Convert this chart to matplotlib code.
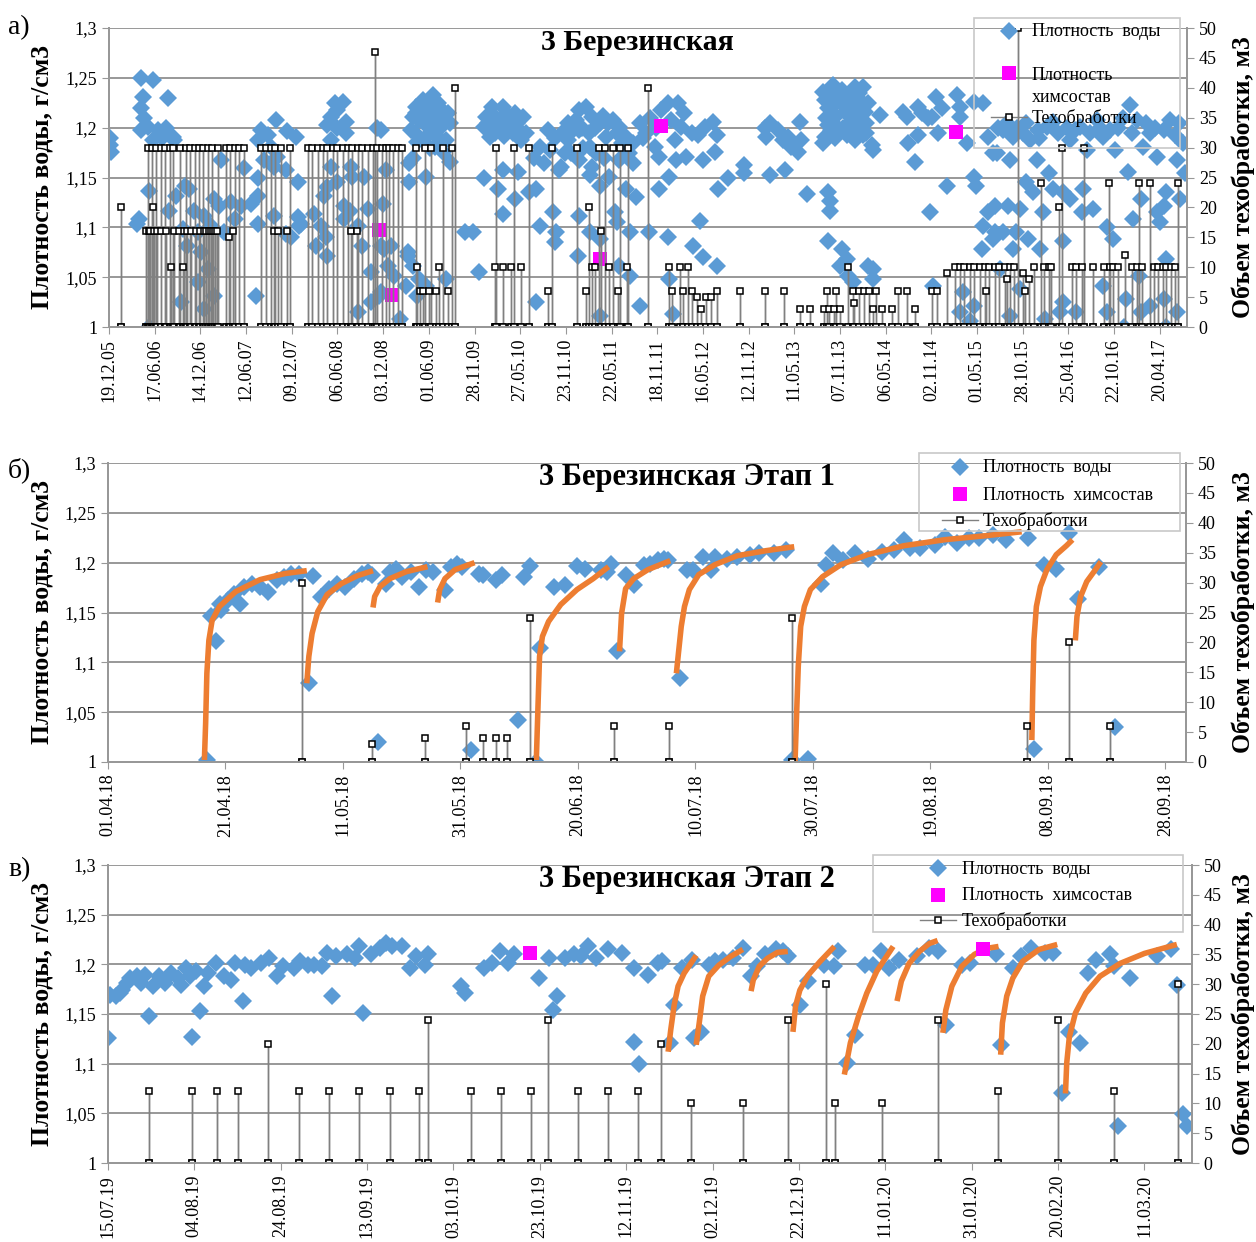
import matplotlib
matplotlib.use('Agg')
import matplotlib.pyplot as plt
import matplotlib.dates as mdates
from matplotlib.patches import Rectangle
from matplotlib.ticker import FuncFormatter
from datetime import datetime, timedelta

plt.rcParams['font.family'] = ['Liberation Serif', 'DejaVu Serif']

BLUE = '#5B9BD5'
MAG = '#FF00FF'
ORANGE = '#ED7D31'
GRID = '#989898'
STEM = '#808080'

# ---------------- panel a: 3 Березинская (decimal years) ----------------
a_dens_year = [
    2005.97, 2005.97, 2005.98, 2006.31, 2006.435, 2006.33, 2006.60, 2006.31, 2006.345, 2006.31,
    2006.38, 2006.49, 2006.58, 2006.65, 2006.54, 2006.435, 2006.67, 2006.40, 2006.29, 2006.27,
    2006.69, 2006.78, 2006.83, 2006.615, 2006.76, 2006.885, 2006.99, 2007.10, 2007.155, 2007.065,
    2007.21, 2006.92, 2006.81, 2006.96, 2006.92, 2007.10, 2006.74, 2006.40, 2007.03, 2006.99,
    2007.17, 2007.42, 2007.28, 2007.39, 2007.50, 2007.57, 2007.57, 2007.57, 2007.32, 2007.55,
    2007.60, 2007.68, 2007.77, 2007.89, 2007.98, 2007.57, 2007.71, 2007.78, 2007.87, 2007.75,
    2007.64, 2008.00, 2008.00, 2008.04, 2007.93, 2007.75, 2007.87, 2008.40, 2008.49, 2008.43,
    2008.36, 2008.52, 2008.32, 2008.43, 2008.52, 2008.36, 2008.86, 2008.36, 2008.575, 2008.59,
    2008.72, 2008.43, 2008.32, 2008.29, 2008.50, 2008.56, 2008.755, 2008.18, 2008.25, 2008.02,
    2008.20, 2008.31, 2008.32, 2008.69, 2008.65, 2008.79, 2008.79, 2008.90, 2008.90, 2008.65,
    2008.50, 2008.90, 2008.92, 2008.95, 2008.97, 2009.01, 2008.93, 2009.04, 2009.10, 2009.17,
    2009.19, 2008.88, 2009.20, 2009.20, 2009.24, 2009.28, 2009.35, 2009.46, 2009.51, 2009.58,
    2009.31, 2009.42, 2009.55, 2009.64, 2009.22, 2009.38, 2009.60, 2009.29, 2009.475, 2009.565,
    2009.24, 2009.385, 2009.64, 2009.24, 2009.31, 2009.385, 2009.60, 2009.29, 2009.19, 2009.80,
    2009.89, 2009.96, 2010.10, 2010.21, 2010.03, 2010.34, 2010.43, 2010.01, 2010.16, 2010.28,
    2010.39, 2010.07, 2010.32, 2010.465, 2010.21, 2010.375, 2010.01, 2010.16, 2010.34, 2010.21,
    2010.57, 2010.50, 2010.61, 2010.75, 2010.79, 2010.77, 2010.57, 2010.70, 2010.61, 2010.55,
    2010.66, 2010.72, 2010.82, 2010.88, 2010.97, 2011.04, 2011.11, 2011.18, 2010.915, 2011.04,
    2011.26, 2011.40, 2011.47, 2011.33, 2011.54, 2011.15, 2011.04, 2010.84, 2011.18, 2011.36,
    2011.47, 2011.615, 2011.69, 2011.76, 2011.15, 2011.26, 2011.54, 2011.65, 2011.04, 2011.15,
    2011.42, 2011.44, 2011.58, 2011.02, 2011.26, 2011.47, 2011.58, 2011.69, 2011.795, 2011.26,
    2011.92, 2011.99, 2012.10, 2012.17, 2012.03, 2012.14, 2012.25, 2012.39, 2012.48, 2012.52,
    2012.32, 2012.07, 2011.85, 2011.90, 2012.08, 2012.19, 2012.37, 2012.50, 2012.01, 2011.90,
    2012.53, 2012.64, 2012.82, 2012.82, 2013.09, 2013.25, 2012.34, 2011.99, 2012.26, 2012.37,
    2012.52, 2012.01, 2012.05, 2013.04, 2013.09, 2013.18, 2013.055, 2013.235, 2013.29, 2013.325,
    2013.40, 2013.415, 2013.43, 2013.49, 2013.72, 2013.74, 2013.74, 2013.67, 2013.775, 2013.865,
    2014.01, 2014.10, 2013.685, 2013.81, 2013.94, 2014.06, 2014.15, 2013.72, 2013.90, 2014.01,
    2014.12, 2014.28, 2013.72, 2013.83, 2014.01, 2014.135, 2013.685, 2013.79, 2013.92, 2014.01,
    2014.10, 2013.67, 2014.19, 2014.21, 2013.72, 2013.865, 2013.85, 2013.92, 2013.94, 2013.99,
    2014.15, 2014.21, 2014.21, 2014.53, 2014.57, 2014.69, 2014.73, 2014.80, 2014.585, 2014.69,
    2014.66, 2014.82, 2014.855, 2014.89, 2014.945, 2015.11, 2015.14, 2015.14, 2015.29, 2015.395,
    2014.91, 2015.215, 2015.45, 2014.84, 2015.00, 2015.50, 2015.61, 2015.72, 2015.825, 2015.90,
    2015.99, 2016.08, 2016.15, 2016.295, 2016.44, 2016.62, 2016.76, 2016.98, 2017.05, 2017.19,
    2017.34, 2017.41, 2017.46, 2015.54, 2015.68, 2015.97, 2016.10, 2016.33, 2016.51, 2016.69,
    2016.82, 2016.96, 2017.12, 2017.27, 2017.48, 2017.57, 2015.29, 2015.32, 2015.45, 2015.52,
    2015.395, 2015.50, 2015.61, 2015.665, 2015.79, 2015.75, 2015.88, 2015.86, 2015.93, 2016.04,
    2016.15, 2016.26, 2016.33, 2016.46, 2016.475, 2016.58, 2016.73, 2016.80, 2017.01, 2017.09,
    2017.27, 2017.34, 2017.30, 2017.37, 2017.52, 2015.38, 2015.52, 2015.72, 2016.01, 2016.26,
    2016.69, 2017.07, 2017.37, 2015.18, 2015.14, 2015.29, 2015.25, 2015.575, 2015.79, 2015.68,
    2016.06, 2016.22, 2016.26, 2016.40, 2016.73, 2016.94, 2017.09, 2017.19, 2017.34, 2017.48,
    2016.91, 2017.37, 2015.215,
    2009.27, 2009.33, 2009.40, 2009.45, 2009.50, 2009.56, 2009.62, 2009.36, 2009.48, 2009.53,
    2009.43, 2009.26, 2010.05, 2010.12, 2010.18, 2010.25, 2010.30, 2010.37, 2010.13, 2010.23,
    2010.41, 2010.78, 2010.85, 2010.92, 2011.00, 2011.07, 2011.14, 2011.21, 2011.29, 2011.35,
    2011.44, 2011.50, 2011.08, 2011.22, 2011.30, 2010.95, 2011.57, 2011.62, 2011.72, 2011.80,
    2011.86, 2013.70, 2013.76, 2013.80, 2013.86, 2013.88, 2013.97, 2014.03, 2014.08, 2014.13,
    2013.75, 2013.96, 2014.05, 2015.55, 2015.65, 2015.76, 2015.86, 2016.00, 2016.20, 2016.38,
    2016.55, 2016.65, 2016.85, 2016.90, 2017.00, 2017.15, 2017.25, 2017.50, 2017.55,
]
a_dens_val = [
    1.19, 1.183, 1.176, 1.25, 1.248, 1.231, 1.23, 1.22, 1.21, 1.198,
    1.201, 1.198, 1.2, 1.191, 1.19, 1.188, 1.188, 1.136, 1.108, 1.103,
    1.131, 1.141, 1.138, 1.116, 1.098, 1.116, 1.111, 1.128, 1.121, 1.101,
    1.095, 1.095, 1.081, 1.075, 1.045, 1.031, 1.025, 1.0, 1.058, 1.018,
    1.168, 1.16, 1.125, 1.121, 1.123, 1.131, 1.15, 1.103, 1.108, 1.031,
    1.198, 1.193, 1.208, 1.197, 1.191, 1.188, 1.181, 1.171, 1.158, 1.161,
    1.168, 1.145, 1.11, 1.103, 1.09, 1.111, 1.093, 1.225, 1.226, 1.218,
    1.211, 1.206, 1.203, 1.2, 1.195, 1.188, 1.2, 1.161, 1.161, 1.151,
    1.151, 1.145, 1.14, 1.131, 1.121, 1.116, 1.118, 1.113, 1.101, 1.101,
    1.081, 1.09, 1.071, 1.081, 1.101, 1.055, 1.025, 1.035, 1.081, 1.015,
    1.108, 1.198, 1.123, 1.158, 1.061, 1.081, 1.078, 1.051, 1.008, 1.041,
    1.071, 1.031, 1.165, 1.145, 1.211, 1.221, 1.228, 1.233, 1.225, 1.216,
    1.208, 1.205, 1.201, 1.205, 1.198, 1.191, 1.188, 1.186, 1.181, 1.176,
    1.17, 1.151, 1.166, 1.061, 1.048, 1.041, 1.048, 1.031, 1.075, 1.095,
    1.095, 1.055, 1.221, 1.221, 1.211, 1.215, 1.211, 1.201, 1.201, 1.205,
    1.198, 1.191, 1.195, 1.195, 1.158, 1.156, 1.15, 1.138, 1.128, 1.113,
    1.138, 1.135, 1.101, 1.115, 1.095, 1.085, 1.025, 1.198, 1.181, 1.17,
    1.165, 1.178, 1.158, 1.175, 1.198, 1.218, 1.221, 1.211, 1.188, 1.198,
    1.205, 1.208, 1.201, 1.191, 1.191, 1.181, 1.168, 1.161, 1.161, 1.151,
    1.168, 1.165, 1.205, 1.195, 1.153, 1.141, 1.138, 1.13, 1.111, 1.095,
    1.115, 1.105, 1.095, 1.071, 1.088, 1.061, 1.051, 1.021, 1.095, 1.011,
    1.218, 1.225, 1.225, 1.215, 1.208, 1.201, 1.195, 1.201, 1.206, 1.193,
    1.193, 1.188, 1.181, 1.171, 1.168, 1.171, 1.168, 1.176, 1.151, 1.138,
    1.138, 1.15, 1.163, 1.155, 1.153, 1.158, 1.106, 1.09, 1.081, 1.07,
    1.061, 1.048, 1.013, 1.2, 1.205, 1.198, 1.191, 1.188, 1.191, 1.181,
    1.176, 1.206, 1.188, 1.133, 1.135, 1.126, 1.116, 1.236, 1.243, 1.238,
    1.241, 1.241, 1.228, 1.226, 1.231, 1.228, 1.225, 1.22, 1.216, 1.218,
    1.216, 1.213, 1.203, 1.2, 1.201, 1.205, 1.191, 1.19, 1.193, 1.188,
    1.193, 1.185, 1.183, 1.178, 1.086, 1.078, 1.061, 1.068, 1.051, 1.045,
    1.061, 1.058, 1.048, 1.216, 1.211, 1.221, 1.215, 1.21, 1.185, 1.193,
    1.166, 1.115, 1.041, 1.231, 1.22, 1.233, 1.221, 1.211, 1.226, 1.225,
    1.195, 1.185, 1.191, 1.211, 1.141, 1.175, 1.198, 1.191, 1.195, 1.188,
    1.198, 1.201, 1.206, 1.2, 1.201, 1.208, 1.198, 1.223, 1.208, 1.195,
    1.198, 1.208, 1.193, 1.175, 1.168, 1.168, 1.155, 1.188, 1.178, 1.191,
    1.178, 1.156, 1.181, 1.171, 1.168, 1.155, 1.151, 1.141, 1.115, 1.121,
    1.101, 1.088, 1.095, 1.121, 1.118, 1.095, 1.088, 1.145, 1.135, 1.115,
    1.138, 1.135, 1.128, 1.115, 1.138, 1.118, 1.1, 1.088, 1.108, 1.128,
    1.115, 1.121, 1.105, 1.135, 1.128, 1.078, 1.095, 1.078, 1.078, 1.086,
    1.041, 1.051, 1.068, 1.035, 1.015, 1.021, 1.006, 1.058, 1.038, 1.011,
    1.008, 1.015, 1.025, 1.015, 1.015, 1.028, 1.015, 1.021, 1.028, 1.015,
    1.0, 1.0, 1.0,
    1.215, 1.22, 1.215, 1.222, 1.212, 1.208, 1.215, 1.205, 1.195, 1.188,
    1.18, 1.195, 1.205, 1.212, 1.208, 1.215, 1.198, 1.205, 1.195, 1.192,
    1.188, 1.19, 1.195, 1.205, 1.208, 1.2, 1.195, 1.2, 1.212, 1.205,
    1.195, 1.185, 1.18, 1.175, 1.17, 1.175, 1.175, 1.185, 1.19, 1.21,
    1.2, 1.21, 1.232, 1.212, 1.225, 1.2, 1.225, 1.21, 1.222, 1.195,
    1.198, 1.205, 1.235, 1.2, 1.205, 1.2, 1.205, 1.19, 1.195, 1.198,
    1.195, 1.2, 1.2, 1.21, 1.195, 1.205, 1.2, 1.205, 1.185,
]
a_chem_year = [2008.88, 2009.02, 2011.26, 2011.92, 2015.10]
a_chem_val = [1.097, 1.032, 1.068, 1.202, 1.196]

a_work_year = [
    2006.09, 2006.36, 2006.38, 2006.40, 2006.41, 2006.43, 2006.44, 2006.45, 2006.47, 2006.48,
    2006.52, 2006.53, 2006.57, 2006.58, 2006.62, 2006.63, 2006.66, 2006.67, 2006.72, 2006.73,
    2006.76, 2006.77, 2006.79, 2006.81, 2006.84, 2006.85, 2006.89, 2006.90, 2006.94, 2006.95,
    2006.98, 2006.99, 2007.01, 2007.03, 2007.04, 2007.06, 2007.08, 2007.09, 2007.11, 2007.13,
    2007.14, 2007.23, 2007.26, 2007.27, 2007.30, 2007.32, 2007.37, 2007.42, 2007.61, 2007.66,
    2007.71, 2007.74, 2007.76, 2007.79, 2007.82, 2007.88, 2007.92, 2008.11, 2008.16, 2008.22,
    2008.27, 2008.32, 2008.38, 2008.43, 2008.49, 2008.54, 2008.58, 2008.59, 2008.64, 2008.65,
    2008.70, 2008.76, 2008.81, 2008.83, 2008.86, 2008.91, 2008.95, 2008.99, 2009.03, 2009.08,
    2009.12, 2009.28, 2009.29, 2009.32, 2009.35, 2009.37, 2009.41, 2009.44, 2009.49, 2009.52,
    2009.57, 2009.62, 2009.66, 2009.70, 2010.13, 2010.14, 2010.21, 2010.30, 2010.33, 2010.41,
    2010.50, 2010.70, 2010.74, 2011.01, 2011.11, 2011.14, 2011.17, 2011.21, 2011.25, 2011.27,
    2011.32, 2011.36, 2011.40, 2011.45, 2011.48, 2011.55, 2011.56, 2011.78, 2012.01, 2012.04,
    2012.12, 2012.16, 2012.21, 2012.25, 2012.31, 2012.35, 2012.40, 2012.46, 2012.52, 2012.77,
    2013.04, 2013.24, 2013.42, 2013.52, 2013.68, 2013.71, 2013.73, 2013.78, 2013.80, 2013.85,
    2013.93, 2013.99, 2014.00, 2014.05, 2014.11, 2014.16, 2014.20, 2014.24, 2014.30, 2014.41,
    2014.48, 2014.57, 2014.66, 2014.84, 2014.90, 2015.00, 2015.09, 2015.14, 2015.19, 2015.25,
    2015.30, 2015.36, 2015.41, 2015.43, 2015.46, 2015.52, 2015.57, 2015.63, 2015.65, 2015.68,
    2015.73, 2015.77, 2015.82, 2015.85, 2015.89, 2015.94, 2016.02, 2016.05, 2016.10, 2016.13,
    2016.21, 2016.25, 2016.35, 2016.40, 2016.46, 2016.48, 2016.58, 2016.70, 2016.75, 2016.76,
    2016.80, 2016.85, 2016.92, 2017.00, 2017.05, 2017.07, 2017.11, 2017.19, 2017.24, 2017.28,
    2017.33, 2017.37, 2017.42, 2017.46, 2017.49,
]
a_work_vol = [
    20, 16, 30, 16, 16, 30, 20, 16, 30, 16,
    30, 16, 30, 16, 30, 10, 30, 16, 16, 30,
    10, 16, 30, 16, 30, 16, 30, 16, 30, 16,
    30, 16, 16, 30, 16, 16, 30, 16, 16, 16,
    30, 30, 15, 30, 16, 30, 30, 30, 30, 30,
    30, 16, 30, 16, 30, 16, 30, 30, 30, 30,
    30, 30, 30, 30, 30, 30, 16, 30, 16, 30,
    30, 30, 30, 46, 30, 30, 30, 30, 30, 30,
    30, 30, 10, 6, 6, 30, 6, 30, 6, 10,
    30, 6, 30, 40, 10, 30, 10, 10, 30, 10,
    30, 6, 30, 30, 6, 20, 10, 10, 30, 16,
    30, 10, 30, 6, 30, 10, 30, 40, 10, 6,
    10, 6, 10, 6, 5, 3, 5, 5, 6, 6,
    6, 6, 3, 3, 3, 6, 3, 3, 6, 3,
    10, 6, 4, 6, 6, 6, 3, 6, 3, 3,
    6, 6, 3, 6, 6, 9, 10, 10, 10, 10,
    10, 10, 10, 6, 10, 10, 10, 10, 8, 10,
    10, 50, 9, 6, 8, 10, 24, 10, 10, 10,
    20, 30, 10, 10, 10, 30, 10, 10, 24, 10,
    10, 10, 12, 10, 10, 24, 10, 24, 10, 10,
    10, 10, 10, 10, 24,
]

# ---------------- panel b: Этап 1 (days from 01.04.18) ----------------
b_start = datetime(2018, 4, 1)
b_dens_day = [
    16.9, 17.6, 18.3, 19.0, 19.3, 20.4, 21.4, 22.4, 23.1, 24.5,
    25.9, 27.3, 28.7, 30.0, 31.1, 32.5, 34.9, 34.2, 36.3, 37.6,
    39.0, 40.4, 41.8, 43.2, 44.2, 44.9, 45.9, 47.3, 48.0, 49.0,
    50.1, 51.5, 52.9, 54.2, 55.3, 57.4, 58.4, 59.4, 60.2, 61.8,
    63.2, 63.9, 66.0, 67.0, 69.8, 70.8, 71.9, 72.9, 73.6, 76.0,
    77.8, 79.8, 81.2, 84.0, 85.0, 85.7, 86.7, 88.1, 89.5, 91.2,
    92.3, 93.6, 94.7, 95.4, 97.4, 98.5, 99.5, 101.2, 102.6, 103.3,
    105.4, 107.1, 109.2, 110.9, 113.4, 115.4, 116.5, 119.2, 121.3, 122.3,
    123.4, 125.1, 127.2, 129.3, 131.7, 133.8, 135.5, 136.5, 138.2, 140.7,
    142.4, 144.5, 146.5, 148.3, 150.7, 152.8, 156.6, 157.6, 159.3, 161.4,
    163.5, 165.2, 168.7, 171.4,
]
b_dens_val = [
    1.002, 1.146, 1.121, 1.159, 1.153, 1.163, 1.169, 1.159, 1.176, 1.179,
    1.176, 1.171, 1.183, 1.186, 1.189, 1.189, 1.187, 1.079, 1.166, 1.174,
    1.179, 1.176, 1.184, 1.189, 1.191, 1.188, 1.02, 1.179, 1.191, 1.194,
    1.186, 1.191, 1.176, 1.193, 1.191, 1.173, 1.196, 1.199, 1.196, 1.012,
    1.189, 1.188, 1.183, 1.188, 1.042, 1.186, 1.197, 1.0, 1.114, 1.176,
    1.178, 1.197, 1.194, 1.193, 1.191, 1.199, 1.111, 1.188, 1.178, 1.198,
    1.199, 1.203, 1.204, 1.203, 1.084, 1.193, 1.193, 1.206, 1.193, 1.206,
    1.204, 1.206, 1.208, 1.21, 1.21, 1.213, 1.002, 1.003, 1.179, 1.198,
    1.21, 1.203, 1.21, 1.204, 1.211, 1.213, 1.223, 1.215, 1.215, 1.218,
    1.226, 1.22, 1.225, 1.225, 1.228, 1.223, 1.225, 1.013, 1.198, 1.194,
    1.23, 1.164, 1.196, 1.035,
]
b_work_day = [33.0, 45.0, 54.0, 61.0, 63.9, 66.1, 68.0, 71.9, 86.1, 95.5, 116.5, 156.4, 163.5, 170.6]
b_work_vol = [30, 3, 4, 6, 4, 4, 4, 24, 6, 6, 24, 6, 20, 6]
b_fit_day = [
    [16.41, 16.62, 16.83, 17.17, 17.72, 18.97, 21.74, 25.89, 30.04, 33.84],
    [33.84, 34.19, 34.74, 35.71, 37.3, 39.72, 42.48, 45.11],
    [45.11, 45.39, 46.3, 48.0, 50.78, 54.38],
    [56.11, 56.46, 57.36, 59.09, 62.4],
    [72.91, 73.19, 73.46, 73.95, 75.0, 77.07, 79.83, 82.6, 85.22],
    [87.07, 87.42, 88.11, 89.49, 91.91, 95.71],
    [96.75, 97.1, 97.58, 98.13, 98.96, 100.56, 103.32, 107.13, 111.97, 116.81],
    [116.95, 117.22, 117.5, 117.91, 118.54, 119.57, 121.65, 124.76, 129.26, 135.48, 142.4, 149.31, 155.53],
    [157.26, 157.4, 157.61, 158.03, 158.72, 159.82, 161.41, 163.14, 164.18],
    [164.66, 164.94, 165.56, 166.6, 167.84, 169.02],
]
b_fit_val = [
    [1.002, 1.039, 1.089, 1.122, 1.142, 1.156, 1.171, 1.183, 1.189, 1.192],
    [1.079, 1.106, 1.129, 1.151, 1.168, 1.179, 1.187, 1.192],
    [1.155, 1.166, 1.176, 1.184, 1.191, 1.196],
    [1.16, 1.173, 1.184, 1.193, 1.2],
    [1.002, 1.055, 1.106, 1.126, 1.141, 1.158, 1.173, 1.184, 1.196],
    [1.111, 1.149, 1.174, 1.184, 1.193, 1.202],
    [1.089, 1.109, 1.136, 1.156, 1.173, 1.188, 1.198, 1.207, 1.212, 1.216],
    [1.0, 1.049, 1.096, 1.136, 1.156, 1.173, 1.186, 1.198, 1.208, 1.217, 1.223, 1.227, 1.231],
    [1.022, 1.069, 1.122, 1.156, 1.176, 1.193, 1.208, 1.217, 1.223],
    [1.122, 1.146, 1.166, 1.181, 1.191, 1.201],
]

# ---------------- panel c: Этап 2 (days from 15.07.19) ----------------
c_start = datetime(2019, 7, 15)
c_dens_day = [
    0.0, 0.5, 1.9, 2.8, 3.3, 4.3, 5.2, 6.6, 7.6, 8.5,
    9.5, 10.4, 11.8, 13.2, 14.7, 16.1, 17.0, 18.0, 19.4, 18.9,
    20.3, 21.3, 22.2, 23.2, 25.0, 26.9, 28.4, 29.3, 31.2, 31.7,
    33.1, 35.4, 37.3, 39.2, 40.6, 43.0, 44.4, 46.3, 47.7, 49.6,
    50.6, 51.9, 52.9, 55.3, 57.2, 58.1, 59.1, 61.0, 62.9, 64.3,
    65.7, 68.1, 70.0, 71.4, 73.3, 74.2, 81.8, 82.7, 87.0, 88.9,
    90.7, 92.6, 94.0, 99.7, 102.1, 103.0, 103.9, 105.9, 107.8, 109.6,
    111.1, 113.0, 115.8, 119.1, 121.9, 121.9, 122.9, 125.0, 127.3, 128.3,
    130.1, 131.1, 133.0, 135.3, 135.8, 137.2, 139.1, 140.5, 142.3, 144.7,
    147.0, 148.9, 150.3, 152.2, 154.6, 156.4, 157.4, 160.2, 162.1, 165.8,
    168.2, 169.1, 171.0, 172.9, 175.2, 177.1, 179.0, 180.8, 183.2, 187.4,
    190.2, 192.1, 194.0, 197.7, 199.6, 205.7, 206.7, 209.5, 211.4, 213.7,
    217.0, 218.9, 220.8, 222.6, 225.0, 226.9, 228.7, 232.0, 233.0, 233.9,
    236.7, 242.8, 246.1, 247.5, 248.9, 249.9,
]
c_dens_val = [
    1.126, 1.169, 1.168, 1.171, 1.174, 1.181, 1.186, 1.188, 1.181, 1.189,
    1.148, 1.178, 1.188, 1.181, 1.191, 1.186, 1.179, 1.196, 1.127, 1.188,
    1.193, 1.153, 1.178, 1.191, 1.201, 1.188, 1.184, 1.201, 1.163, 1.199,
    1.196, 1.201, 1.206, 1.188, 1.198, 1.196, 1.203, 1.199, 1.199, 1.198,
    1.211, 1.168, 1.208, 1.21, 1.206, 1.218, 1.151, 1.21, 1.216, 1.221,
    1.218, 1.218, 1.196, 1.208, 1.199, 1.21, 1.178, 1.171, 1.196, 1.201,
    1.213, 1.201, 1.21, 1.186, 1.206, 1.154, 1.168, 1.206, 1.21, 1.208,
    1.218, 1.206, 1.215, 1.211, 1.196, 1.122, 1.1, 1.189, 1.201, 1.203,
    1.121, 1.159, 1.196, 1.204, 1.126, 1.132, 1.199, 1.203, 1.204, 1.206,
    1.216, 1.188, 1.198, 1.21, 1.215, 1.213, 1.208, 1.159, 1.183, 1.199,
    1.198, 1.213, 1.101, 1.129, 1.199, 1.199, 1.213, 1.196, 1.204, 1.208,
    1.216, 1.213, 1.139, 1.199, 1.201, 1.21, 1.119, 1.196, 1.208, 1.216,
    1.211, 1.211, 1.07, 1.132, 1.121, 1.191, 1.204, 1.21, 1.198, 1.037,
    1.186, 1.208, 1.215, 1.179, 1.049, 1.037,
]
c_chem_day = [97.8, 202.7]
c_chem_val = [1.211, 1.215]
c_work_day = [9.45, 19.4, 25.3, 30.2, 37.1, 44.2, 51.2, 58.1, 65.2, 72.0,
              74.0, 84.1, 91.0, 97.9, 101.9, 108.9, 115.8, 122.7, 128.1, 135.1,
              147.0, 157.4, 166.3, 168.4, 179.2, 192.1, 206.0, 219.9, 233.0, 247.8]
c_work_vol = [12, 12, 12, 12, 20, 12, 12, 12, 12, 12,
              24, 12, 12, 12, 24, 12, 12, 12, 20, 10,
              10, 24, 30, 10, 10, 24, 12, 24, 12, 30]
c_fit_day = [
    [129.7, 130.3, 131.1, 132.0, 133.4, 136.2],
    [136.2, 136.9, 137.7, 139.1, 141.4, 144.2, 147.0],
    [148.9, 149.4, 150.8, 152.7, 155.0, 157.4],
    [158.6, 159.2, 160.2, 162.1, 164.9, 168.2],
    [170.5, 171.9, 173.8, 175.7, 178.0, 181.8],
    [182.7, 183.7, 185.5, 187.9, 190.2, 192.1],
    [193.3, 194.0, 195.4, 197.7, 200.6, 203.4, 206.2],
    [206.7, 207.1, 208.1, 209.5, 211.8, 215.6, 219.8],
    [221.7, 222.0, 222.6, 224.0, 226.4, 229.7, 234.4, 240.0, 247.5],
]
c_fit_val = [
    [1.112, 1.134, 1.159, 1.178, 1.191, 1.209],
    [1.119, 1.141, 1.168, 1.188, 1.199, 1.208, 1.215],
    [1.173, 1.184, 1.198, 1.206, 1.212, 1.213],
    [1.132, 1.158, 1.174, 1.189, 1.203, 1.218],
    [1.089, 1.121, 1.148, 1.171, 1.193, 1.218],
    [1.163, 1.183, 1.201, 1.213, 1.221, 1.224],
    [1.131, 1.154, 1.178, 1.198, 1.21, 1.216, 1.218],
    [1.109, 1.141, 1.168, 1.186, 1.203, 1.215, 1.22],
    [1.07, 1.101, 1.127, 1.151, 1.171, 1.188, 1.201, 1.211, 1.22],
]


def from_year(y):
    yi = int(y)
    return datetime(yi, 1, 1) + timedelta(days=(y - yi) * 365.25)


def from_day(start, d):
    return start + timedelta(days=d)


def stems(xs, vs):
    # each treatment is drawn as 0 -> volume -> 0 like the original line series
    sx, sy = [], []
    for x, v in sorted(zip(xs, vs)):
        sx += [x, x, x]
        sy += [0, v, 0]
    return sx, sy


W, H = 1256, 1242
fig = plt.figure(figsize=(12.56, 12.42), dpi=100)


def make_axes(l, t, r, b):
    ax = fig.add_axes([l / W, 1 - b / H, (r - l) / W, (b - t) / H])
    ax2 = ax.twinx()
    return ax, ax2


def style(ax, ax2, x0, x1, ticks):
    ax.set_xlim(x0, x1)
    ax.set_ylim(1, 1.3)
    ax.set_yticks([1, 1.05, 1.1, 1.15, 1.2, 1.25, 1.3])
    ax.yaxis.set_major_formatter(FuncFormatter(
        lambda v, p: ('%.2f' % v).rstrip('0').rstrip('.').replace('.', ',')))
    ax.set_xticks(ticks)
    ax.xaxis.set_major_formatter(mdates.DateFormatter('%d.%m.%y'))
    ax.tick_params(axis='x', rotation=90, labelsize=13, length=5, color=GRID)
    ax.tick_params(axis='y', labelsize=13, length=5, color=GRID)
    ax.grid(axis='y', color=GRID, lw=1.4)
    ax.set_axisbelow(True)
    ax2.set_ylim(0, 50)
    ax2.set_yticks(range(0, 51, 5))
    ax2.tick_params(axis='y', labelsize=13, length=5, color=GRID)
    for a in (ax, ax2):
        a.spines['top'].set_visible(False)
        for s in ('left', 'right', 'bottom'):
            a.spines[s].set_color(GRID)
            a.spines[s].set_linewidth(1.4)


def side_labels(yc):
    fig.text(42 / W, 1 - yc / H, 'Плотность воды, г/см3', rotation=90,
             ha='center', va='center', fontsize=18.5, fontweight='bold')
    fig.text(1243 / W, 1 - yc / H, 'Объем техобработки, м3', rotation=90,
             ha='center', va='center', fontsize=18.5, fontweight='bold')


def plot_work(ax2, xs, vs):
    sx, sy = stems(xs, vs)
    ax2.plot(sx, sy, color=STEM, lw=1, marker='s', ms=4.6, mfc='white',
             mec='black', mew=1.1)


# ---- panel a ----
ax, ax2 = make_axes(109, 28, 1187, 327)
ax.plot([from_year(y) for y in a_dens_year], a_dens_val, ls='none', marker='D',
        ms=9.6, color=BLUE, mew=0, zorder=2)
ax.plot([from_year(y) for y in a_chem_year], a_chem_val, ls='none', marker='s',
        ms=9.8, color=MAG, mew=0, zorder=3)
plot_work(ax2, [from_year(y) for y in a_work_year], a_work_vol)
a_ticks = [datetime(2005, 12, 19) + timedelta(days=180 * k) for k in range(24)]
style(ax, ax2, datetime(2005, 12, 19), datetime(2017, 8, 5), a_ticks)
ax.text(0.49, 0.953, '3 Березинская', transform=ax.transAxes, ha='center',
        va='center', fontsize=21.5, fontweight='bold')
side_labels(177)
fig.text(8 / W, 1 - 28 / H, 'а)', fontsize=20, ha='left', va='center')

# ---- panel b ----
ax, ax2 = make_axes(108, 463, 1186, 762)
ax.plot([from_day(b_start, d) for d in b_dens_day], b_dens_val, ls='none', marker='D',
        ms=9, color=BLUE, mew=0, zorder=2)
for days, vals in zip(b_fit_day, b_fit_val):
    ax.plot([from_day(b_start, d) for d in days], vals, color=ORANGE, lw=4,
            solid_capstyle='butt', zorder=3)
plot_work(ax2, [from_day(b_start, d) for d in b_work_day], b_work_vol)
b_ticks = [b_start + timedelta(days=20 * k) for k in range(10)]
style(ax, ax2, b_start, from_day(b_start, 183.5), b_ticks)
ax.text(0.537, 0.953, '3 Березинская Этап 1', transform=ax.transAxes, ha='center',
        va='center', fontsize=22, fontweight='bold')
side_labels(612)
fig.text(8 / W, 1 - 470 / H, 'б)', fontsize=20, ha='left', va='center')

# ---- panel c ----
ax, ax2 = make_axes(108, 865, 1192, 1163)
ax.plot([from_day(c_start, d) for d in c_dens_day], c_dens_val, ls='none', marker='D',
        ms=9, color=BLUE, mew=0, zorder=2)
ax.plot([from_day(c_start, d) for d in c_chem_day], c_chem_val, ls='none', marker='s',
        ms=9.8, color=MAG, mew=0, zorder=4)
for days, vals in zip(c_fit_day, c_fit_val):
    ax.plot([from_day(c_start, d) for d in days], vals, color=ORANGE, lw=4,
            solid_capstyle='butt', zorder=3)
plot_work(ax2, [from_day(c_start, d) for d in c_work_day], c_work_vol)
c_ticks = [c_start + timedelta(days=20 * k) for k in range(13)]
style(ax, ax2, c_start, from_day(c_start, 251), c_ticks)
ax.text(0.534, 0.95, '3 Березинская Этап 2', transform=ax.transAxes, ha='center',
        va='center', fontsize=22, fontweight='bold')
side_labels(1014)
fig.text(8 / W, 1 - 870 / H, 'в)', fontsize=20, ha='left', va='center')

# ---- legends (Excel-style boxes, laid out in figure pixels) ----
ov = fig.add_axes([0, 0, 1, 1], zorder=10)
ov.set_xlim(0, W)
ov.set_ylim(H, 0)
ov.axis('off')


def legend_box(box, hx, tx, rows):
    l, t, r, b = box
    ov.add_patch(Rectangle((l, t), r - l, b - t, fill=False, ec='#C8C8C8', lw=1.2))
    for kind, y, lines in rows:
        if kind == 'dens':
            ov.plot([hx], [y], ls='none', marker='D', ms=9, color=BLUE, mew=0)
        elif kind == 'chem':
            ov.plot([hx], [y], ls='none', marker='s', ms=9.5, color=MAG, mew=0)
        else:
            ov.plot([hx - 18, hx + 18], [y, y], color=STEM, lw=1)
            ov.plot([hx], [y], ls='none', marker='s', ms=4.6, mfc='white',
                    mec='black', mew=1.1)
        for txt, ty in lines:
            ov.text(tx, ty, txt, ha='left', va='center', fontsize=13)


legend_box((974, 18, 1180, 148), 1009, 1032, [
    ('dens', 31, [('Плотность  воды', 32)]),
    ('chem', 73, [('Плотность', 75), ('химсостав', 97)]),
    ('work', 117, [('Техобработки', 118)]),
])
legend_box((919, 453, 1180, 531), 960, 983, [
    ('dens', 467, [('Плотность  воды', 468)]),
    ('chem', 494, [('Плотность  химсостав', 495)]),
    ('work', 520, [('Техобработки', 521)]),
])
legend_box((873, 855, 1183, 932), 938, 962, [
    ('dens', 868, [('Плотность  воды', 869)]),
    ('chem', 895, [('Плотность  химсостав', 896)]),
    ('work', 920, [('Техобработки', 921)]),
])

fig.savefig('out.png', dpi=100)
